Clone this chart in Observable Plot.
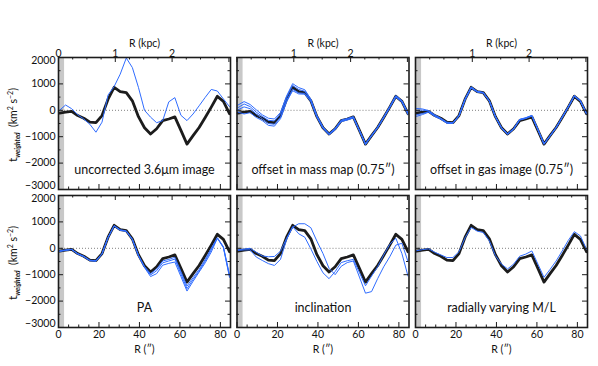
<!DOCTYPE html>
<html><head><meta charset="utf-8">
<script src="https://cdn.jsdelivr.net/npm/d3@7"></script>
<script src="https://cdn.jsdelivr.net/npm/@observablehq/plot@0.6"></script>
<style>
body{margin:0;background:#fff;}
#chart{position:relative;width:598px;height:366px;overflow:hidden;background:#fff;font-family:Lato,"DejaVu Sans",sans-serif;}
#chart svg{position:absolute;left:0;top:0;}
</style></head><body><div id="chart"></div>
<script>
// ---- data ----
const radius = [0.5,3.5,6.5,9.5,12.5,15.5,18.5,21.5,24.5,27.5,30.5,33.5,36.5,39.5,42.5,45.5,48.5,51.5,54.5,57.5,60.5,63.5,66.5,69.5,72.5,75.5,78.5,81.5,84.5];
const reference   = [-110,-70,-40,-200,-300,-450,-470,-200,420,870,710,670,360,-240,-660,-900,-700,-390,-330,-250,-760,-1280,-960,-650,-270,120,530,340,-130];
const uncorrected = [0,200,60,-170,-330,-530,-830,-450,580,900,1370,1980,1620,870,0,-260,-470,-390,320,480,-190,-390,-140,170,490,790,730,430,140];
const massMap1 = [200,330,220,20,-170,-300,-330,-80,540,1010,860,780,420,-200,-630,-880,-680,-370,-310,-240,-750,-1260,-940,-630,-250,150,560,370,-100];
const massMap2 = [100,240,140,-70,-230,-380,-400,-140,480,940,790,720,390,-220,-650,-900,-700,-390,-330,-250,-760,-1280,-960,-650,-270,130,540,350,-120];
const massMap3 = [20,130,60,-140,-320,-500,-530,-260,380,800,660,640,350,-250,-670,-910,-720,-410,-350,-270,-770,-1290,-970,-660,-280,110,520,330,-140];
const massMap4 = [-70,-140,-90,-270,-390,-570,-600,-320,320,740,620,610,330,-270,-690,-930,-740,-430,-370,-290,-790,-1300,-980,-670,-290,100,500,310,-160];
const gas1 = [70,50,-10,-170,-300,-450,-470,-190,440,890,720,680,370,-230,-650,-880,-690,-340,-280,-190,-720,-1260,-950,-640,-250,140,560,370,-110];
const gas2 = [0,10,-30,-190,-310,-470,-480,-200,420,870,710,670,360,-240,-660,-895,-700,-350,-290,-200,-730,-1270,-960,-650,-260,130,550,360,-120];
const gas3 = [-170,-120,-60,-220,-330,-480,-490,-210,400,850,700,660,350,-250,-670,-905,-710,-360,-300,-210,-740,-1280,-970,-660,-270,120,540,350,-130];
const gas4 = [-230,-160,-70,-230,-340,-490,-500,-220,390,840,690,650,340,-260,-680,-915,-720,-370,-310,-220,-750,-1290,-980,-670,-280,110,530,340,-140];
const pa1 = [-100,-60,-40,-200,-300,-450,-470,-200,420,860,700,660,350,-260,-690,-960,-780,-480,-420,-340,-880,-1430,-1110,-800,-420,0,400,60,-1000];
const pa2 = [-110,-70,-40,-210,-310,-460,-480,-210,410,850,690,650,340,-270,-710,-1010,-850,-550,-480,-410,-970,-1530,-1180,-860,-480,-60,390,40,-1050];
const pa3 = [-120,-80,-50,-220,-320,-470,-490,-220,400,840,680,640,330,-280,-730,-1070,-960,-640,-570,-520,-1070,-1620,-1250,-900,-550,-140,380,20,-1100];
const inclInner = [-80,-60,-60,-330,-460,-580,-650,-420,330,820,550,420,-20,-500,-930,-1150,-880,-540,-470,-420,-920,-1420,-1050,-700,-250,150,380,-200,-1050];
const inclOuter = [-60,-30,0,-150,-290,-320,-310,-110,380,800,930,930,780,270,-200,-760,-1000,-680,-540,-480,-1090,-1700,-1640,-1150,-700,-320,120,190,-500];
const radialML = [-90,-50,-20,-150,-250,-350,-350,-130,400,790,650,600,280,-280,-600,-780,-600,-300,-220,-100,-600,-1100,-800,-480,-100,300,630,470,-40];

const panelTitles = ["uncorrected 3.6μm image","offset in mass map (0.75″)","offset in gas image (0.75″)","PA","inclination","radially varying M/L"];
const panelSeries = [[uncorrected],[massMap1,massMap2,massMap3,massMap4],[gas1,gas2,gas3,gas4],[pa1,pa2,pa3],[inclInner,inclOuter],[radialML]];

const shadedBand = [{from: 0, to: 3}];
const yMajorTicks = [-3000,-2000,-1000,0,1000,2000];
const yMinorTicks = [-2500,-1500,-500,500,1500];
const yInnerLabels = [-2000,-1000,0,1000];
const xMajorTicks = [0,20,40,60,80];
const xMinorTicks = [5,10,15,25,30,35,45,50,55,65,70,75];
const arcsecPerKpc = 28.07;
const kpcMajorTicks = [0,1,2,3];
const kpcMinorTicks = [0.25,0.5,0.75,1.25,1.5,1.75,2.25,2.5,2.75];

// ---- layout ----
const W = 598, H = 366;
const colLeft = [58, 236.5, 415];
const rowTop = [57, 195];
const pw = 172, ph = 132;
const blue = "#2f6cff", ink = "#1c1c1c";
const fmt = d3.format("d");

const chart = document.getElementById("chart");

panelTitles.forEach((title, i) => {
  const col = i % 3, row = Math.floor(i / 3);
  const L = colLeft[col], T = rowTop[row];
  const series = vals => vals.map((v, k) => ({r: radius[k], t: v}));
  const marks = [
    Plot.rect(shadedBand, {x1: "from", x2: "to", fill: "#c8c8c8"}),
    Plot.ruleY([0], {stroke: "#808080", strokeWidth: 1, strokeDasharray: "1,2"}),
    Plot.line(series(reference), {x: "r", y: "t", stroke: ink, strokeWidth: 2.8, strokeLinejoin: "round", clip: true}),
    ...panelSeries[i].map(s => Plot.line(series(s), {x: "r", y: "t", stroke: blue, strokeWidth: 1, strokeLinejoin: "round", clip: true})),
    // inward ticks
    Plot.tickX(xMajorTicks, {x: d => d, insetTop: ph - 5, stroke: ink}),
    Plot.tickX(xMinorTicks, {x: d => d, insetTop: ph - 2.5, stroke: ink}),
    Plot.tickX(kpcMajorTicks, {x: d => d * arcsecPerKpc, insetBottom: ph - 5, stroke: ink}),
    Plot.tickX(kpcMinorTicks, {x: d => d * arcsecPerKpc, insetBottom: ph - 2.5, stroke: ink}),
    Plot.tickY(yMajorTicks, {y: d => d, insetRight: pw - 5, stroke: ink}),
    Plot.tickY(yMajorTicks, {y: d => d, insetLeft: pw - 5, stroke: ink}),
    Plot.tickY(yMinorTicks, {y: d => d, insetRight: pw - 2.5, stroke: ink}),
    Plot.tickY(yMinorTicks, {y: d => d, insetLeft: pw - 2.5, stroke: ink}),
    Plot.frame({stroke: ink, strokeWidth: 1.6}),
    Plot.text([title], {text: d => d, frameAnchor: "bottom", dy: -16, fontSize: 12.5, fill: "#111"})
  ];
  if (col === 0) {
    marks.push(
      Plot.axisY({ticks: yInnerLabels, anchor: "left", tickSize: 0, tickPadding: 3, tickFormat: fmt, label: null, fill: "#111"}),
      Plot.axisY({ticks: [2000], anchor: "left", tickSize: 0, tickPadding: 3, tickFormat: fmt, label: null, dy: 3.5, fill: "#111"}),
      Plot.axisY({ticks: [-3000], anchor: "left", tickSize: 0, tickPadding: 3, tickFormat: fmt, label: null, dy: -3.5, fill: "#111"})
    );
  }
  if (row === 1) {
    marks.push(
      Plot.axisX({ticks: xMajorTicks, anchor: "bottom", tickSize: 0, tickPadding: 3.5, tickFormat: fmt, label: null, fill: "#111"}),
      Plot.text(["R (″)"], {text: d => d, frameAnchor: "bottom", dy: 25, fontSize: 10.5, fill: "#111"})
    );
  } else {
    const kpcLabels = col === 0 ? [0,1,2] : [1,2];
    marks.push(
      Plot.text(kpcLabels, {x: d => d * arcsecPerKpc, text: d => String(d), frameAnchor: "top", dy: -8, fontSize: 10.5, fill: "#111"}),
      Plot.text(["R (kpc)"], {text: d => d, frameAnchor: "top", dy: -18, fontSize: 10.5, fill: "#111"})
    );
  }
  const svg = Plot.plot({
    width: W, height: H,
    marginLeft: L, marginRight: W - L - pw, marginTop: T, marginBottom: H - T - ph,
    x: {domain: [0, 85], axis: null},
    y: {domain: [-3000, 2000], axis: null},
    style: {background: "transparent", overflow: "visible", fontFamily: "Lato, 'DejaVu Sans', sans-serif", fontSize: "10.5px"},
    marks
  });
  if (col === 0) {
    const t = d3.select(svg).append("text")
      .attr("transform", `translate(17,${T + ph / 2 + 2}) rotate(-90)`)
      .attr("text-anchor", "middle")
      .attr("fill", "#111")
      .style("font-size", "10.5px");
    t.append("tspan").style("font-size", "12px").text("t");
    t.append("tspan").attr("dy", 3).style("font-size", "6.5px").style("font-style", "italic").style("font-weight", "bold").text("weighted");
    t.append("tspan").attr("dy", -3).text("\u00a0\u00a0(km");
    t.append("tspan").attr("dy", -4).style("font-size", "7px").text("2");
    t.append("tspan").attr("dy", 4).text("\u00a0s");
    t.append("tspan").attr("dy", -4).style("font-size", "7px").text("−2");
    t.append("tspan").attr("dy", 4).text(")");
  }
  chart.appendChild(svg);
});
</script>
</body></html>
